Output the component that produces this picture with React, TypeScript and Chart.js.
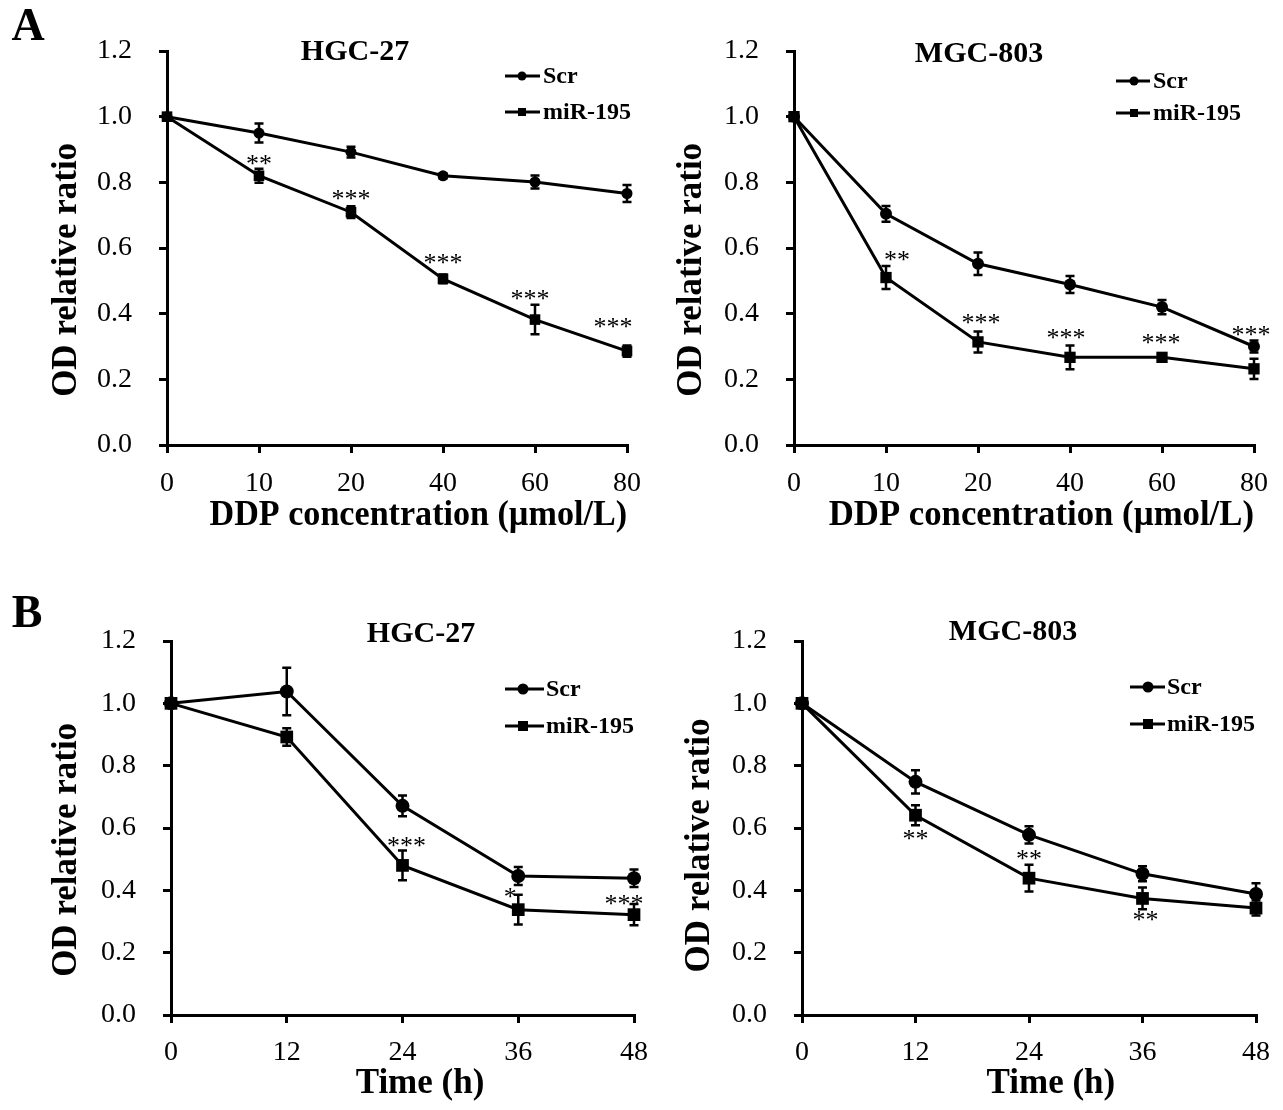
import React, { useEffect, useRef } from 'react';
import { Chart, registerables } from 'chart.js';

Chart.register(...registerables);

const W = 1283;
const H = 1110;

// ---------- data ----------
const doseLabels = ['0', '10', '20', '40', '60', '80'];
const timeLabels = ['0', '12', '24', '36', '48'];
const yTickValues = [0, 0.2, 0.4, 0.6, 0.8, 1.0, 1.2];
const seriesNames = ['Scr', 'miR-195'];

// A: HGC-27, DDP concentration
const hgcDoseScr = [1.0, 0.95, 0.892, 0.82, 0.801, 0.766];
const hgcDoseScrErr = [0, 0.029, 0.016, 0.008, 0.02, 0.026];
const hgcDoseMir = [1.0, 0.82, 0.709, 0.506, 0.382, 0.286];
const hgcDoseMirErr = [0, 0.021, 0.018, 0.013, 0.045, 0.017];
const hgcDoseStars = ['', '**', '***', '***', '***', '***'];
const hgcDoseStarY = [null, 0.87, 0.762, 0.566, 0.459, 0.372];

// A: MGC-803, DDP concentration
const mgcDoseScr = [1.0, 0.704, 0.552, 0.489, 0.42, 0.3];
const mgcDoseScrErr = [0, 0.024, 0.034, 0.026, 0.022, 0.018];
const mgcDoseMir = [1.0, 0.51, 0.314, 0.267, 0.267, 0.232];
const mgcDoseMirErr = [0, 0.035, 0.032, 0.036, 0.01, 0.031];
const mgcDoseStars = ['', '**', '***', '***', '***', '***'];
const mgcDoseStarY = [null, 0.577, 0.383, 0.338, 0.322, 0.349];

// B: HGC-27, time
const hgcTimeScr = [1.0, 1.038, 0.671, 0.446, 0.439];
const hgcTimeScrErr = [0, 0.076, 0.033, 0.029, 0.028];
const hgcTimeMir = [1.0, 0.892, 0.48, 0.338, 0.322];
const hgcTimeMirErr = [0, 0.028, 0.048, 0.048, 0.034];
const hgcTimeStars = ['', '', '***', '*', '***'];
const hgcTimeStarY = [null, null, 0.555, 0.391, 0.37];

// B: MGC-803, time
const mgcTimeScr = [1.0, 0.748, 0.578, 0.453, 0.388];
const mgcTimeScrErr = [0, 0.037, 0.028, 0.024, 0.035];
const mgcTimeMir = [1.0, 0.641, 0.439, 0.374, 0.343];
const mgcTimeMirErr = [0, 0.032, 0.043, 0.035, 0.024];
const mgcTimeStars = ['', '**', '**', '**', ''];
const mgcTimeStarY = [null, 0.578, 0.513, 0.318, null];

// ---------- layout / style ----------
const SERIF = '"Liberation Serif", "Times New Roman", serif';

type Panel = {
  key: string;
  letter?: { text: string; x: number; y: number };
  area: { left: number; right: number; top: number; bottom: number };
  yTitleX: number;
  xTitleY: number;
  xTitle: string;
  xShift: number;
  yShift: number;
  tickPad: number;
  title: string;
  titleX: number;
  titleY: number;
  legend: { x1: number; x2: number; mx: number; y1: number; y2: number; tx: number; font: number; cr: number; sq: number };
  labels: string[];
  scr: number[];
  scrErr: number[];
  mir: number[];
  mirErr: number[];
  stars: string[];
  starY: (number | null)[];
  starDx: number[];
  circleR: number;
  rectR: number;
};

const panels: Panel[] = [
  {
    key: 'a1',
    letter: { text: 'A', x: 28, y: 28 },
    area: { left: 167, right: 627, top: 51, bottom: 445 },
    yTitleX: 67,
    xTitleY: 516,
    xTitle: 'DDP concentration (µmol/L)',
    xShift: 5,
    yShift: 5,
    tickPad: 14,
    title: 'HGC-27',
    titleX: 355,
    titleY: 52,
    legend: { x1: 505, x2: 540, mx: 522, y1: 76, y2: 112, tx: 543, font: 24, cr: 4.5, sq: 4 },
    labels: doseLabels,
    scr: hgcDoseScr,
    scrErr: hgcDoseScrErr,
    mir: hgcDoseMir,
    mirErr: hgcDoseMirErr,
    stars: hgcDoseStars,
    starY: hgcDoseStarY,
    starDx: [0, 0, 0, 0, -5, -14],
    circleR: 5.5,
    rectR: 7.5,
  },
  {
    key: 'a2',
    area: { left: 794, right: 1254, top: 51, bottom: 445 },
    yTitleX: 692,
    xTitleY: 516,
    xTitle: 'DDP concentration (µmol/L)',
    xShift: 4,
    yShift: 5,
    tickPad: 14,
    title: 'MGC-803',
    titleX: 979,
    titleY: 54,
    legend: { x1: 1116, x2: 1150, mx: 1134, y1: 81, y2: 113, tx: 1153, font: 24, cr: 4.5, sq: 4 },
    labels: doseLabels,
    scr: mgcDoseScr,
    scrErr: mgcDoseScrErr,
    mir: mgcDoseMir,
    mirErr: mgcDoseMirErr,
    stars: mgcDoseStars,
    starY: mgcDoseStarY,
    starDx: [0, 11, 3, -4, -1, -3],
    circleR: 6,
    rectR: 8,
  },
  {
    key: 'b1',
    letter: { text: 'B', x: 27, y: 615 },
    area: { left: 171, right: 634, top: 641, bottom: 1015 },
    yTitleX: 67,
    xTitleY: 1084,
    xTitle: 'Time (h)',
    xShift: 4,
    yShift: 5,
    tickPad: 13,
    title: 'HGC-27',
    titleX: 421,
    titleY: 634,
    legend: { x1: 505, x2: 544, mx: 523, y1: 689, y2: 726, tx: 546, font: 24, cr: 5.5, sq: 5 },
    labels: timeLabels,
    scr: hgcTimeScr,
    scrErr: hgcTimeScrErr,
    mir: hgcTimeMir,
    mirErr: hgcTimeMirErr,
    stars: hgcTimeStars,
    starY: hgcTimeStarY,
    starDx: [0, 0, 4, -8, -10],
    circleR: 7,
    rectR: 9,
  },
  {
    key: 'b2',
    area: { left: 802, right: 1260, top: 641, bottom: 1015 },
    yTitleX: 700,
    xTitleY: 1084,
    xTitle: 'Time (h)',
    xShift: 5,
    yShift: 4,
    tickPad: 13,
    title: 'MGC-803',
    titleX: 1013,
    titleY: 632,
    legend: { x1: 1130, x2: 1165, mx: 1148, y1: 687, y2: 724, tx: 1167, font: 24, cr: 5.5, sq: 5 },
    labels: timeLabels,
    scr: mgcTimeScr,
    scrErr: mgcTimeScrErr,
    mir: mgcTimeMir,
    mirErr: mgcTimeMirErr,
    stars: mgcTimeStars,
    starY: mgcTimeStarY,
    starDx: [0, 0, 0, 3, 0],
    circleR: 7,
    rectR: 9,
  },
];

const spaces = (n: number) => ' '.repeat(n);

function makeConfig(p: Panel): any {
  const Y_TITLE = 35;
  const X_TITLE = 35;
  const STAR = 26;
  const TICK = 28;
  const yScaleLeft = p.yTitleX - (Y_TITLE * 1.2) / 2;
  const xScaleBottom = p.xTitleY + (X_TITLE * 1.2) / 2;

  const decor = {
    id: 'decor' + p.key,
    afterDatasetsDraw(chart: any) {
      const ctx: CanvasRenderingContext2D = chart.ctx;
      const ys = chart.scales.y;
      const errs = [p.scrErr, p.mirErr];
      ctx.save();
      ctx.strokeStyle = '#000';
      ctx.fillStyle = '#000';
      // error bars
      ctx.lineWidth = 2.5;
      chart.data.datasets.forEach((ds: any, di: number) => {
        const meta = chart.getDatasetMeta(di);
        ds.data.forEach((v: number, i: number) => {
          const e = errs[di][i];
          if (!e) return;
          const px = meta.data[i].x;
          const yt = ys.getPixelForValue(v + e);
          const yb = ys.getPixelForValue(v - e);
          const cap = 4.5;
          ctx.beginPath();
          ctx.moveTo(px, yt);
          ctx.lineTo(px, yb);
          ctx.moveTo(px - cap, yt);
          ctx.lineTo(px + cap, yt);
          ctx.moveTo(px - cap, yb);
          ctx.lineTo(px + cap, yb);
          ctx.stroke();
        });
      });
      // significance stars
      const metaX = chart.getDatasetMeta(1);
      ctx.font = `${STAR}px ${SERIF}`;
      ctx.textAlign = 'center';
      ctx.textBaseline = 'alphabetic';
      p.stars.forEach((s, i) => {
        const sy = p.starY[i];
        if (!s || sy == null) return;
        const px = metaX.data[i].x + p.starDx[i];
        ctx.fillText(s, px, ys.getPixelForValue(sy) + STAR * 0.47);
      });
      // panel title
      ctx.font = `bold 30px ${SERIF}`;
      ctx.textBaseline = 'middle';
      ctx.textAlign = 'center';
      ctx.fillText(p.title, p.titleX, p.titleY);
      // legend
      const L = p.legend;
      ctx.lineWidth = 3;
      [L.y1, L.y2].forEach((ly, k) => {
        ctx.beginPath();
        ctx.moveTo(L.x1, ly);
        ctx.lineTo(L.x2, ly);
        ctx.stroke();
        if (k === 0) {
          ctx.beginPath();
          ctx.arc(L.mx, ly, L.cr, 0, Math.PI * 2);
          ctx.fill();
        } else {
          ctx.fillRect(L.mx - L.sq, ly - L.sq, L.sq * 2, L.sq * 2);
        }
        ctx.font = `bold ${L.font}px ${SERIF}`;
        ctx.textAlign = 'left';
        ctx.textBaseline = 'middle';
        ctx.fillText(seriesNames[k], L.tx, ly + 1);
      });
      // panel letter
      if (p.letter) {
        ctx.font = `bold 46px ${SERIF}`;
        ctx.textAlign = 'center';
        ctx.textBaseline = 'middle';
        ctx.fillText(p.letter.text, p.letter.x, p.letter.y);
      }
      ctx.restore();
    },
  };

  const gridOpts = {
    display: true,
    drawOnChartArea: false,
    drawTicks: true,
    tickLength: 8,
    color: '#000',
    lineWidth: 3,
  };
  const borderOpts = { display: true, color: '#000', width: 3 };

  return {
    type: 'line',
    data: {
      labels: p.labels,
      datasets: [
        {
          label: seriesNames[0],
          data: p.scr,
          borderColor: '#000',
          backgroundColor: '#000',
          borderWidth: 3,
          pointStyle: 'circle',
          pointRadius: p.circleR,
          pointBackgroundColor: '#000',
          pointBorderColor: '#000',
          pointBorderWidth: 0,
          tension: 0,
          fill: false,
          clip: false,
        },
        {
          label: seriesNames[1],
          data: p.mir,
          borderColor: '#000',
          backgroundColor: '#000',
          borderWidth: 3,
          pointStyle: 'rect',
          pointRadius: p.rectR,
          pointBackgroundColor: '#000',
          pointBorderColor: '#000',
          pointBorderWidth: 0,
          tension: 0,
          fill: false,
          clip: false,
        },
      ],
    },
    options: {
      animation: false,
      responsive: false,
      devicePixelRatio: 1,
      events: [],
      layout: {
        padding: {
          left: yScaleLeft,
          top: p.area.top,
          right: W - p.area.right,
          bottom: H - xScaleBottom,
        },
      },
      plugins: {
        legend: { display: false },
        title: { display: false },
        tooltip: { enabled: false },
      },
      scales: {
        x: {
          type: 'category',
          offset: false,
          grid: gridOpts,
          border: borderOpts,
          ticks: {
            color: '#000',
            font: { family: SERIF, size: TICK },
            padding: p.tickPad,
            maxRotation: 0,
            minRotation: 0,
            autoSkip: false,
          },
          title: {
            display: true,
            text: spaces(p.xShift) + p.xTitle,
            color: '#000',
            font: { family: SERIF, size: X_TITLE, weight: 'bold' },
            padding: 0,
          },
          afterFit: (s: any) => {
            s.height = xScaleBottom - p.area.bottom;
          },
        },
        y: {
          type: 'linear',
          min: 0,
          max: 1.2,
          grid: gridOpts,
          border: borderOpts,
          afterBuildTicks: (s: any) => {
            s.ticks = yTickValues.map((v) => ({ value: v }));
          },
          ticks: {
            color: '#000',
            font: { family: SERIF, size: TICK },
            padding: 27,
            callback: (v: any) => Number(v).toFixed(1),
          },
          title: {
            display: true,
            text: 'OD relative ratio' + spaces(p.yShift),
            color: '#000',
            font: { family: SERIF, size: Y_TITLE, weight: 'bold' },
            padding: 0,
          },
          afterFit: (s: any) => {
            s.width = p.area.left - yScaleLeft;
          },
        },
      },
    },
    plugins: [decor],
  };
}

function PanelChart({ p }: { p: Panel }) {
  const ref = useRef<HTMLCanvasElement | null>(null);
  useEffect(() => {
    if (!ref.current) return;
    const chart = new Chart(ref.current, makeConfig(p));
    return () => chart.destroy();
  }, [p]);
  return (
    <canvas
      ref={ref}
      width={W}
      height={H}
      style={{ position: 'absolute', left: 0, top: 0, width: W, height: H }}
    />
  );
}

export default function App() {
  return (
    <div
      style={{
        position: 'absolute',
        left: 0,
        top: 0,
        width: W,
        height: H,
        background: '#fff',
        overflow: 'hidden',
      }}
    >
      {panels.map((p) => (
        <PanelChart key={p.key} p={p} />
      ))}
    </div>
  );
}
